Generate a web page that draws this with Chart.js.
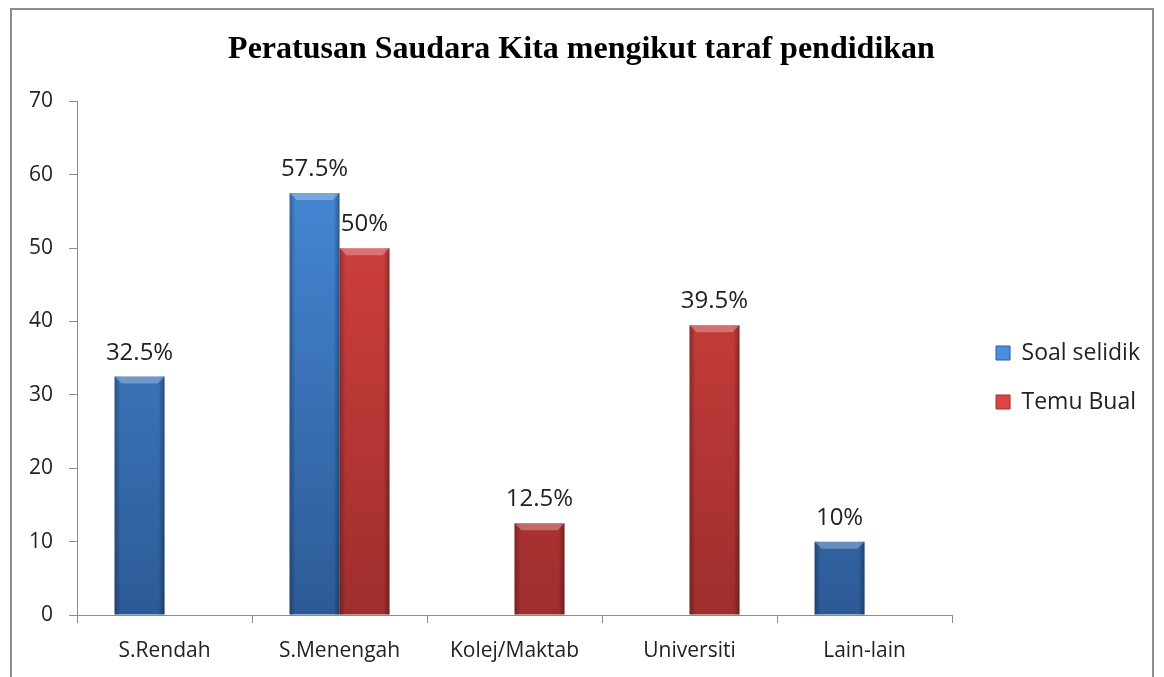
<!DOCTYPE html>
<html>
<head>
<meta charset="utf-8">
<script src="https://cdn.jsdelivr.net/npm/chart.js@4.4.0/dist/chart.umd.min.js"></script>
<style>
  body { margin: 0; background: #fff; }
  #frame { position: absolute; left: 10px; top: 8px; width: 1140px; height: 690px; border: 2px solid #8c8c8c; border-bottom: none; }
  #wrap { position: absolute; left: 0; top: 0; width: 1164px; height: 677px; }
</style>
</head>
<body>
<div id="frame"></div>
<div id="wrap"><canvas id="chart"></canvas></div>
<script>
    const categories = ['S.Rendah', 'S.Menengah', 'Kolej/Maktab', 'Universiti', 'Lain-lain'];
    const soalSelidik = [32.5, 57.5, null, null, 10];
    const temuBual = [null, 50, 12.5, 39.5, null];
    const yMin = 0, yMax = 70, yStep = 10;

    const blueTop = '#4a8fdf', blueBottom = '#2c5a96';
    const redTop = '#de4542', redBottom = '#9e2e2d';

    // vertical gradient over the plot area for each series
    function barFill(top, bottom) {
        return function (context) {
            const area = context.chart.chartArea;
            if (!area) return top;
            const g = context.chart.ctx.createLinearGradient(0, area.top, 0, area.bottom);
            g.addColorStop(0, top);
            g.addColorStop(1, bottom);
            return g;
        };
    }

    // bevel look: lighter top edge, darker sides
    const bevel = {
        id: 'bevel',
        afterDatasetsDraw(chart) {
            const ctx = chart.ctx;
            ctx.save();
            chart.data.datasets.forEach((ds, di) => {
                chart.getDatasetMeta(di).data.forEach((bar, i) => {
                    if (ds.data[i] == null) return;
                    const p = bar.getProps(['x', 'y', 'base', 'width'], true);
                    const l = p.x - p.width / 2, r = p.x + p.width / 2, d = 7;
                    const side = ctx.createLinearGradient(l, 0, r, 0);
                    side.addColorStop(0, 'rgba(0,0,0,0.28)');
                    side.addColorStop(0.12, 'rgba(0,0,0,0)');
                    side.addColorStop(0.88, 'rgba(0,0,0,0)');
                    side.addColorStop(1, 'rgba(0,0,0,0.32)');
                    ctx.fillStyle = side;
                    ctx.fillRect(l, p.y, r - l, p.base - p.y);
                    ctx.fillStyle = 'rgba(255,255,255,0.28)';
                    ctx.beginPath();
                    ctx.moveTo(l, p.y);
                    ctx.lineTo(r, p.y);
                    ctx.lineTo(r - d, p.y + d);
                    ctx.lineTo(l + d, p.y + d);
                    ctx.closePath();
                    ctx.fill();
                });
            });
            ctx.restore();
        }
    };

    const valueLabels = {
        id: 'valueLabels',
        afterDatasetsDraw(chart) {
            const ctx = chart.ctx;
            ctx.save();
            ctx.font = '24px "Open Sans"';
            ctx.fillStyle = '#222';
            ctx.textAlign = 'center';
            ctx.textBaseline = 'alphabetic';
            chart.data.datasets.forEach((ds, di) => {
                chart.getDatasetMeta(di).data.forEach((bar, i) => {
                    const v = ds.data[i];
                    if (v == null) return;
                    ctx.fillText(v + '%', bar.x, bar.y - 17);
                });
            });
            ctx.restore();
        }
    };

    const legendColors = [blueTop, redTop];
    const legendBorders = [blueBottom, redBottom];

    new Chart(document.getElementById('chart'), {
        type: 'bar',
        data: {
            labels: categories,
            datasets: [
                { label: 'Soal selidik', data: soalSelidik, backgroundColor: barFill(blueTop, blueBottom) },
                { label: 'Temu Bual', data: temuBual, backgroundColor: barFill(redTop, redBottom) }
            ]
        },
        options: {
            responsive: true,
            maintainAspectRatio: false,
            animation: false,
            categoryPercentage: 0.571,
            barPercentage: 1,
            layout: { padding: { left: 13, right: 14, top: 0, bottom: 4 } },
            plugins: {
                title: {
                    display: true,
                    text: 'Peratusan Saudara Kita mengikut taraf pendidikan',
                    font: { family: 'Liberation Serif', size: 32, weight: 'bold' },
                    color: '#000',
                    padding: { top: 31, bottom: 32 }
                },
                legend: {
                    position: 'right',
                    // blank title pushes the items a little below centre, as in the original
                    title: { display: true, text: ' ', font: { size: 10 }, padding: { top: 35, bottom: 35 } },
                    labels: {
                        boxWidth: 14,
                        boxHeight: 14,
                        padding: 26,
                        font: { family: 'Open Sans', size: 23 },
                        color: '#222',
                        generateLabels: chart => Chart.defaults.plugins.legend.labels.generateLabels(chart).map((l, i) => ({
                            ...l, fillStyle: legendColors[i], strokeStyle: legendBorders[i], lineWidth: 1
                        }))
                    }
                },
                tooltip: { enabled: false }
            },
            scales: {
                x: {
                    grid: { drawOnChartArea: false, color: '#8c8c8c', tickLength: 8 },
                    border: { color: '#8c8c8c' },
                    ticks: { font: { family: 'Open Sans', size: 21 }, color: '#222', padding: 15 },
                    afterFit: s => { s.height = 58; }
                },
                y: {
                    min: yMin,
                    max: yMax,
                    grid: { drawOnChartArea: false, color: '#8c8c8c', tickLength: 8 },
                    border: { color: '#8c8c8c' },
                    ticks: { stepSize: yStep, font: { family: 'Open Sans', size: 21 }, color: '#222', padding: 16 }
                },
                // empty spacer between plot and legend
                gap: {
                    position: 'right',
                    grid: { display: false },
                    border: { display: false },
                    ticks: { display: false },
                    afterFit: s => { s.width = 18; }
                }
            }
        },
        plugins: [bevel, valueLabels]
    });
</script>
</body>
</html>
